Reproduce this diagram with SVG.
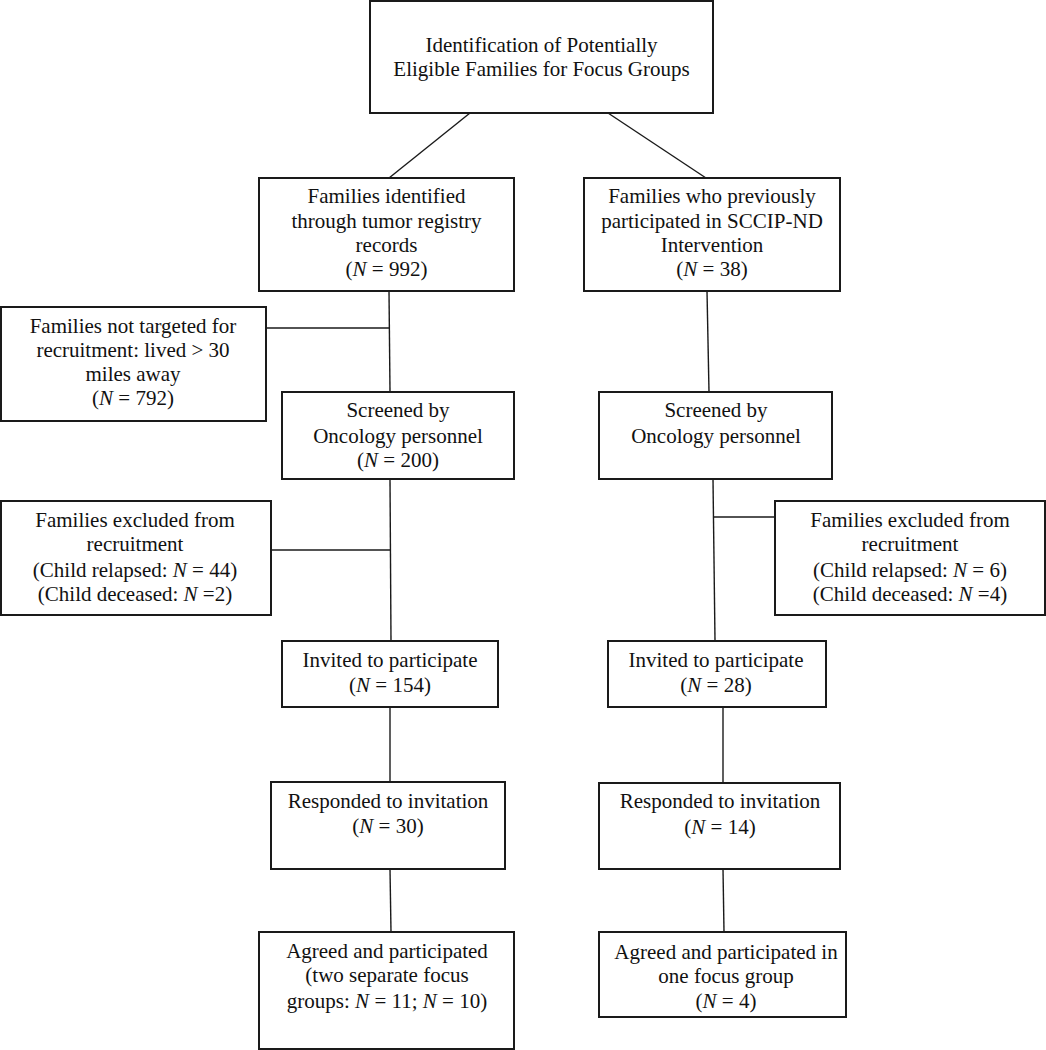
<svg xmlns="http://www.w3.org/2000/svg" width="1046" height="1050" viewBox="0 0 1046 1050">
<style>
.box{fill:#fff;stroke:#1a1a1a;stroke-width:2}
.conn line{stroke:#1a1a1a;stroke-width:1.4}
text{font-family:"Liberation Serif","Times New Roman",serif;font-size:21px;fill:#111;text-anchor:middle}
.i{font-style:italic}
</style>
<rect width="1046" height="1050" fill="#fff"/>
<g id="connectors" class="conn">
<line x1="470" y1="113" x2="389" y2="178"/>
<line x1="608" y1="113" x2="706" y2="178"/>
<line x1="389" y1="291" x2="390" y2="392"/>
<line x1="266" y1="328" x2="390" y2="328"/>
<line x1="707" y1="291" x2="709" y2="392"/>
<line x1="390" y1="479" x2="391" y2="641"/>
<line x1="271" y1="550" x2="391" y2="550"/>
<line x1="713" y1="479" x2="715" y2="641"/>
<line x1="713" y1="517" x2="775" y2="517"/>
<line x1="390" y1="707" x2="390" y2="782"/>
<line x1="723" y1="707" x2="723" y2="783"/>
<line x1="390" y1="869" x2="391" y2="932"/>
<line x1="723" y1="869" x2="724" y2="932"/>
</g>
<g id="top">
<rect class="box" x="370" y="1" width="343" height="112"/>
<text x="541.5" y="52">Identification of Potentially</text>
<text x="541.5" y="76">Eligible Families for Focus Groups</text>
</g>
<g id="registry">
<rect class="box" x="259" y="178" width="255" height="113"/>
<text x="386.5" y="203">Families identified</text>
<text x="386.5" y="228">through tumor registry</text>
<text x="386.5" y="252">records</text>
<text x="386.5" y="276">(<tspan class="i">N</tspan> = 992)</text>
</g>
<g id="sccip">
<rect class="box" x="584" y="178" width="256" height="113"/>
<text x="712" y="203">Families who previously</text>
<text x="712" y="228">participated in SCCIP-ND</text>
<text x="712" y="252">Intervention</text>
<text x="712" y="276">(<tspan class="i">N</tspan> = 38)</text>
</g>
<g id="not-targeted">
<rect class="box" x="1" y="307" width="265" height="114"/>
<text x="133" y="333">Families not targeted for</text>
<text x="133" y="357">recruitment: lived &gt; 30</text>
<text x="133" y="381">miles away</text>
<text x="133" y="405">(<tspan class="i">N</tspan> = 792)</text>
</g>
<g id="screened-left">
<rect class="box" x="282" y="392" width="232" height="87"/>
<text x="398" y="417">Screened by</text>
<text x="398" y="443">Oncology personnel</text>
<text x="398" y="467">(<tspan class="i">N</tspan> = 200)</text>
</g>
<g id="screened-right">
<rect class="box" x="599" y="392" width="233" height="87"/>
<text x="716" y="417">Screened by</text>
<text x="716" y="443">Oncology personnel</text>
</g>
<g id="excluded-left">
<rect class="box" x="1" y="501" width="270" height="114"/>
<text x="135" y="527">Families excluded from</text>
<text x="135" y="551">recruitment</text>
<text x="135" y="577">(Child relapsed: <tspan class="i">N</tspan> = 44)</text>
<text x="135" y="601">(Child deceased: <tspan class="i">N</tspan> =2)</text>
</g>
<g id="excluded-right">
<rect class="box" x="775" y="501" width="270" height="114"/>
<text x="910" y="527">Families excluded from</text>
<text x="910" y="551">recruitment</text>
<text x="910" y="577">(Child relapsed: <tspan class="i">N</tspan> = 6)</text>
<text x="910" y="601">(Child deceased: <tspan class="i">N</tspan> =4)</text>
</g>
<g id="invited-left">
<rect class="box" x="282" y="641" width="216" height="66"/>
<text x="390" y="667">Invited to participate</text>
<text x="390" y="692">(<tspan class="i">N</tspan> = 154)</text>
</g>
<g id="invited-right">
<rect class="box" x="608" y="641" width="218" height="66"/>
<text x="716" y="667">Invited to participate</text>
<text x="716" y="692">(<tspan class="i">N</tspan> = 28)</text>
</g>
<g id="responded-left">
<rect class="box" x="271" y="782" width="234" height="87"/>
<text x="388" y="808">Responded to invitation</text>
<text x="388" y="833">(<tspan class="i">N</tspan> = 30)</text>
</g>
<g id="responded-right">
<rect class="box" x="599" y="783" width="241" height="86"/>
<text x="720" y="808">Responded to invitation</text>
<text x="720" y="834">(<tspan class="i">N</tspan> = 14)</text>
</g>
<g id="agreed-left">
<rect class="box" x="259" y="932" width="255" height="117"/>
<text x="387" y="958">Agreed and participated</text>
<text x="387" y="982">(two separate focus</text>
<text x="387" y="1008">groups: <tspan class="i">N</tspan> = 11; <tspan class="i">N</tspan> = 10)</text>
</g>
<g id="agreed-right">
<rect class="box" x="599" y="932" width="247" height="85"/>
<text x="726" y="959">Agreed and participated in</text>
<text x="726" y="983">one focus group</text>
<text x="726" y="1008">(<tspan class="i">N</tspan> = 4)</text>
</g>
</svg>
